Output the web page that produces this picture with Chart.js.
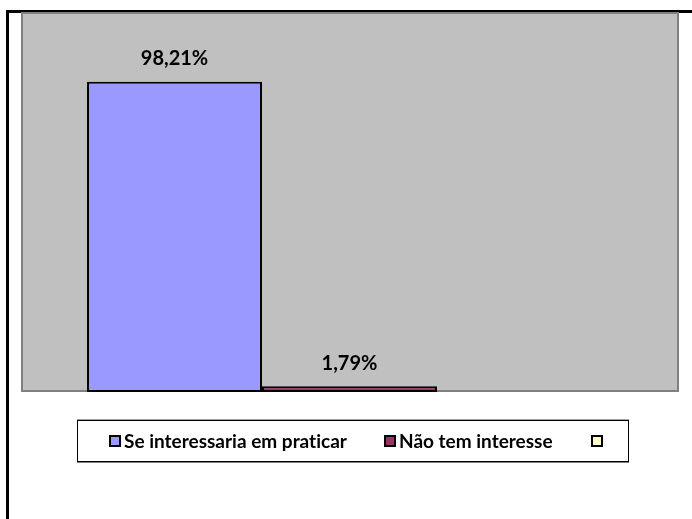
<!DOCTYPE html>
<html>
<head>
<meta charset="utf-8">
<script src="https://cdn.jsdelivr.net/npm/chart.js@4.4.1/dist/chart.umd.min.js"></script>
<style>
  html, body { margin: 0; padding: 0; background: #fff; }
  body { width: 692px; height: 519px; position: relative; overflow: hidden; font-family: Lato, "Liberation Sans", sans-serif; }
  #frame { position: absolute; left: 6px; top: 10px; width: 720px; height: 540px; border-left: 3px solid #000; border-top: 3px solid #000; }
  #chart-wrap { position: absolute; left: 0; top: 0; width: 692px; height: 519px; }
  #legend {
    position: absolute; left: 77px; top: 420px; width: 550px; height: 40px;
    border: 1px solid #000; box-shadow: 0 1px 0 #808080, 0 -1px 0 #a0a0a0;
    font-weight: bold; font-size: 19px; color: #000; font-variant-ligatures: none;
  }
  .item { position: absolute; top: 0; height: 40px; line-height: 40px; white-space: nowrap; }
  .item .mark { position: absolute; top: 14px; width: 8px; height: 8px; border: 2px solid #000; left: 0; }
  .item span { position: absolute; left: 15px; top: 0; }
</style>
</head>
<body>
<div id="frame"></div>
<div id="chart-wrap"><canvas id="grafico"></canvas></div>
<div id="legend"></div>
<script>
// dados do gráfico
const categorias = [''];
const rotulos = ['Se interessaria em praticar', 'Não tem interesse', ''];
const valores = [[98.21], [1.79], [null]];
const cores = ['#9999FF', '#993366', '#FFFFCC'];
const posLegenda = [31, 306, 513]; // x de cada item dentro da caixa

const fundoArea = {
  id: 'fundoArea',
  beforeDatasetsDraw(chart) {
    const { ctx, chartArea: a } = chart;
    ctx.save();
    ctx.fillStyle = '#C0C0C0';
    ctx.fillRect(a.left, a.top, a.right - a.left, a.bottom - a.top);
    ctx.strokeStyle = '#808080';
    ctx.lineWidth = 2;
    ctx.strokeRect(a.left + 1, a.top, a.right - a.left - 1, a.bottom - a.top - 1);
    ctx.restore();
  }
};

// rótulos de porcentagem acima das barras
const rotulosValor = {
  id: 'rotulosValor',
  afterDatasetsDraw(chart) {
    const ctx = chart.ctx;
    ctx.save();
    ctx.font = 'bold 20px Lato, "Liberation Sans", sans-serif';
    ctx.fillStyle = '#000';
    ctx.textAlign = 'center';
    ctx.textBaseline = 'middle';
    chart.data.datasets.forEach((ds, i) => {
      chart.getDatasetMeta(i).data.forEach((bar, j) => {
        const v = ds.data[j];
        if (v == null) return;
        ctx.fillText(v.toFixed(2).replace('.', ',') + '%', bar.x, bar.y - 23);
      });
    });
    ctx.restore();
  }
};

new Chart(document.getElementById('grafico'), {
  type: 'bar',
  data: {
    labels: categorias,
    datasets: rotulos.map((r, i) => ({
      label: r, data: valores[i],
      backgroundColor: cores[i], borderColor: '#000', borderWidth: 2, borderSkipped: false,
      categoryPercentage: 0.799, barPercentage: 1
    }))
  },
  options: {
    responsive: true, maintainAspectRatio: false, animation: false,
    layout: { padding: { left: 21, top: 13, right: 14, bottom: 127 } },
    plugins: { legend: { display: false }, tooltip: { enabled: false } },
    scales: {
      x: { display: false },
      y: { display: false, min: 0, max: 120 }
    }
  },
  plugins: [fundoArea, rotulosValor]
});

// legenda em HTML
const leg = document.getElementById('legend');
rotulos.forEach((r, i) => {
  const it = document.createElement('div');
  it.className = 'item';
  it.style.left = posLegenda[i] + 'px';
  it.innerHTML = '<div class="mark" style="background:' + cores[i] + '"></div><span></span>';
  it.querySelector('span').textContent = r;
  leg.appendChild(it);
});
</script>
</body>
</html>
